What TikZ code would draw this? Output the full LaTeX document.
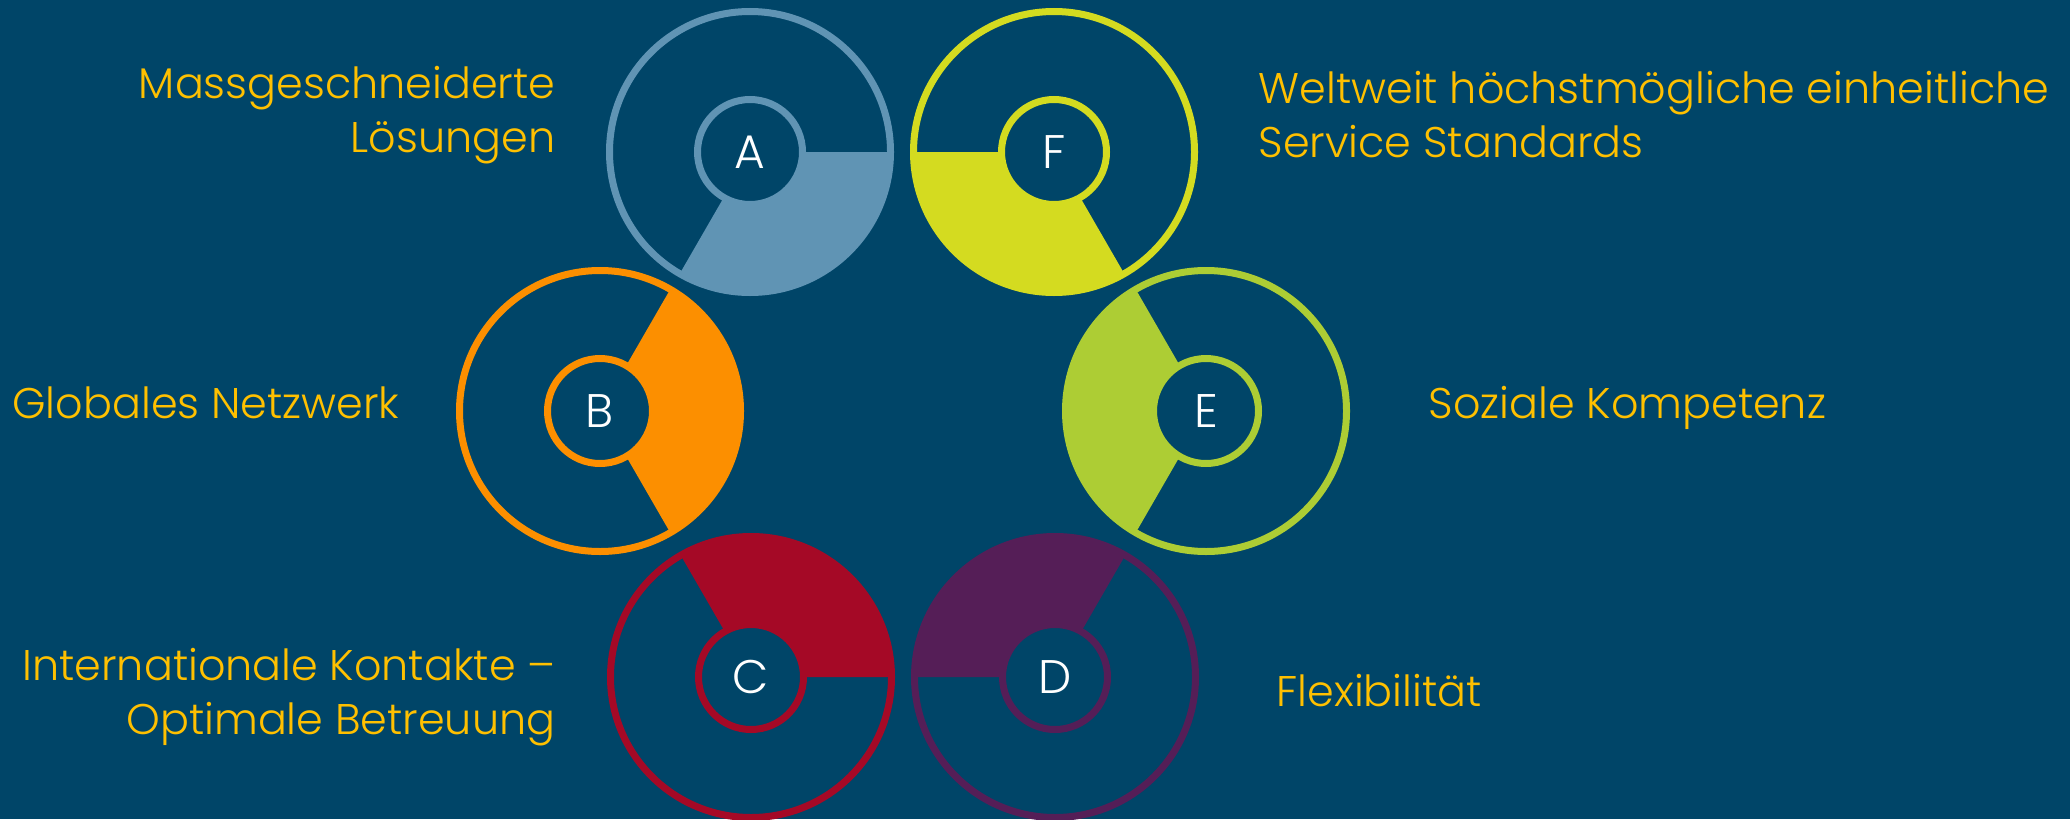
\documentclass[tikz,border=0pt]{standalone}
\usepackage{fontspec}
\setmainfont{Poppins}[UprightFont={* Light}]
\usetikzlibrary{positioning}
\definecolor{bgBlue}{HTML}{004568}
\definecolor{topicGold}{HTML}{FFC000}
\definecolor{colA}{HTML}{6094B4}
\definecolor{colB}{HTML}{FC8F00}
\definecolor{colC}{HTML}{A50926}
\definecolor{colD}{HTML}{551E57}
\definecolor{colE}{HTML}{ADCD34}
\definecolor{colF}{HTML}{D4DB20}
\tikzset{%
	% rings and their letters
	ring/.style = {circle, draw, line width=0.07cm, inner sep=0pt},
	outerRing/.style = {ring, minimum size=2.81cm},
	innerRing/.style = {ring, minimum size=1.05cm, text=white,
		font=\fontsize{13.4pt}{16pt}\selectfont},
	% texts beside the rings
	topic/.style = {text=topicGold, inner sep=0pt,
		font=\fontsize{12.2pt}{15.3pt}\selectfont},
	topicLeft/.style = {topic, align=right, anchor=base east},
	topicRight/.style = {topic, align=left, anchor=base west}
}
\begin{document}
\begin{tikzpicture}
		\useasboundingbox (0,0) rectangle (20.7,8.19);
		\fill[bgBlue] (0,0) rectangle (20.7,8.19);
		%% Sector fills
		\coordinate (cA) at (7.50,6.67);
		\coordinate (cB) at (6.00,4.08);
		\coordinate (cC) at (7.51,1.42);
		\coordinate (cD) at (10.55,1.42);
		\coordinate (cE) at (12.06,4.08);
		\coordinate (cF) at (10.54,6.67);
		\fill[colA] ([shift={(-120:1.405)}]cA) arc[start angle=-120, end angle=0, radius=1.405] -- ([shift={(0:0.525)}]cA) arc[start angle=0, end angle=-120, radius=0.525] -- cycle;
		\fill[colB] ([shift={(-60:1.405)}]cB) arc[start angle=-60, end angle=60, radius=1.405] -- ([shift={(60:0.525)}]cB) arc[start angle=60, end angle=-60, radius=0.525] -- cycle;
		\fill[colC] ([shift={(0:1.405)}]cC) arc[start angle=0, end angle=120, radius=1.405] -- ([shift={(120:0.525)}]cC) arc[start angle=120, end angle=0, radius=0.525] -- cycle;
		\fill[colD] ([shift={(60:1.405)}]cD) arc[start angle=60, end angle=180, radius=1.405] -- ([shift={(180:0.525)}]cD) arc[start angle=180, end angle=60, radius=0.525] -- cycle;
		\fill[colE] ([shift={(120:1.405)}]cE) arc[start angle=120, end angle=240, radius=1.405] -- ([shift={(240:0.525)}]cE) arc[start angle=240, end angle=120, radius=0.525] -- cycle;
		\fill[colF] ([shift={(180:1.405)}]cF) arc[start angle=180, end angle=300, radius=1.405] -- ([shift={(300:0.525)}]cF) arc[start angle=300, end angle=180, radius=0.525] -- cycle;
		%% Rings
		\node[outerRing, draw=colA] (outerA) at (cA) {};
		\node[innerRing, draw=colA] (innerA) at (cA) {A};
		\node[outerRing, draw=colB] (outerB) at (cB) {};
		\node[innerRing, draw=colB] (innerB) at (cB) {B};
		\node[outerRing, draw=colC] (outerC) at (cC) {};
		\node[innerRing, draw=colC] (innerC) at (cC) {C};
		\node[outerRing, draw=colD] (outerD) at (cD) {};
		\node[innerRing, draw=colD] (innerD) at (cD) {D};
		\node[outerRing, draw=colE] (outerE) at (cE) {};
		\node[innerRing, draw=colE] (innerE) at (cE) {E};
		\node[outerRing, draw=colF] (outerF) at (cF) {};
		\node[innerRing, draw=colF] (innerF) at (cF) {F};
		%% Topics
		\node[topicLeft] (topicA) at (5.56,6.67) {Massgeschneiderte\\Lösungen};
		\node[topicLeft] (topicB) at (4.00,4.01) {Globales Netzwerk};
		\node[topicLeft] (topicC) at (5.56,0.85) {Internationale Kontakte –\\Optimale Betreuung};
		\node[topicRight] (topicD) at (12.76,1.13) {Flexibilität};
		\node[topicRight] (topicE) at (14.28,4.01) {Soziale Kompetenz};
		\node[topicRight] (topicF) at (12.58,6.62) {Weltweit höchstmögliche einheitliche\\Service Standards};
	\end{tikzpicture}
\end{document}
